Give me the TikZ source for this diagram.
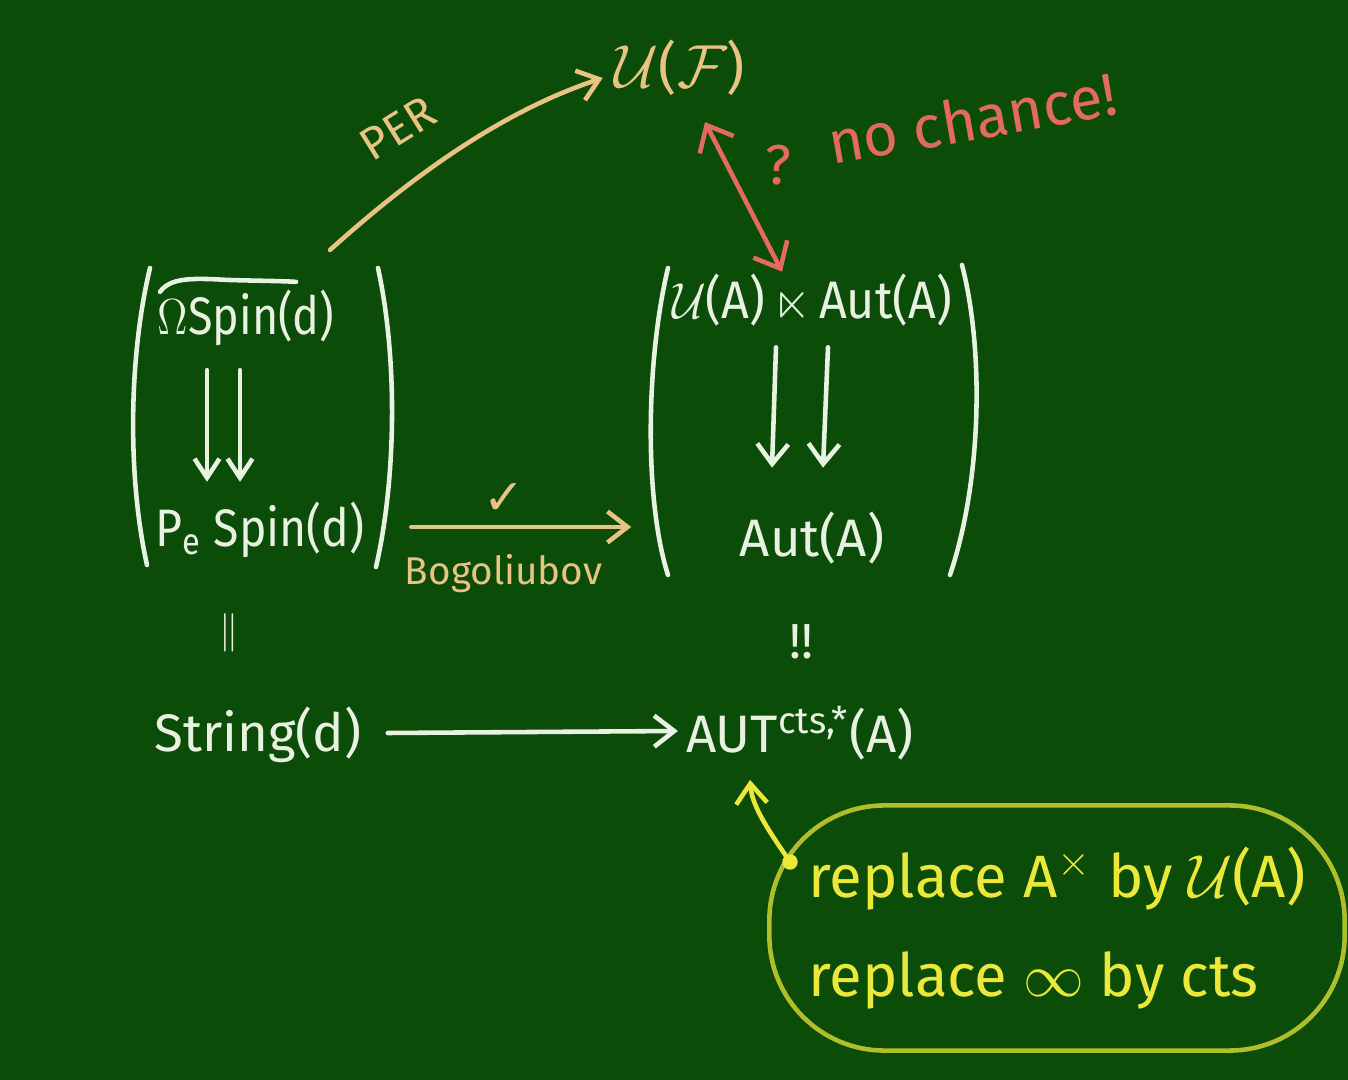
\documentclass[tikz,border=0pt]{standalone}
\usepackage{amssymb}
\usepackage{graphicx}
\usepackage{fontspec}
\setmainfont{Fira Sans}
\newfontfamily\dejavu{DejaVu Sans}
\usetikzlibrary{arrows.meta,calc}
\definecolor{board}{HTML}{0A4C08}
\definecolor{chalkw}{HTML}{E9F1E1}
\definecolor{tan}{HTML}{E9C383}
\definecolor{chred}{HTML}{E46A5E}
\definecolor{yel}{HTML}{ECE83A}
\definecolor{olive}{HTML}{B0BE2C}
\tikzset{
  chalk/.style={draw=chalkw, line width=1.3pt, line cap=round},
  tanline/.style={draw=tan, line width=1.3pt, line cap=round},
  redline/.style={draw=chred, line width=1.3pt, line cap=round},
  yelline/.style={draw=yel, line width=1.3pt, line cap=round},
  tipend/.style={-{Straight Barb[length=2mm,width=3.1mm]}},
  tipsmall/.style={-{Straight Barb[length=1.9mm,width=2.5mm]}},
  tipboth/.style={{Straight Barb[length=2.2mm,width=3.8mm]}-{Straight Barb[length=2.2mm,width=3.8mm]}},
  txt/.style={text=chalkw, font=\fontsize{15}{18}\selectfont, inner sep=1pt},
  tantxt/.style={text=tan, inner sep=1pt},
  redtxt/.style={text=chred, inner sep=1pt},
  matbox/.style={minimum width=2.65cm, minimum height=3.05cm, inner sep=0pt}
}
\begin{document}
\begin{tikzpicture}[x=0.01cm,y=-0.01cm]
\fill[board] (0,0) rectangle (1348,1080);
\useasboundingbox (0,0) rectangle (1348,1080);

% top node
\node[tantxt, font=\fontsize{16}{18}\selectfont] (UF) at (680,68) {$\mathcal{U}$($\mathcal{F}$)};

% left matrix
\node[matbox] (Lmat) at (263,417) {};
\node[txt] (Ltop) at (246,318) {\scalebox{0.85}[1]{$\Omega$Spin(d)}};
\node[txt] (Lbot) at (260,530) {\scalebox{0.88}[1]{P\textsubscript{e} Spin(d)}};
\draw[chalk] (150,268) .. controls (128,360) and (128,480) .. (147,565);
\draw[chalk] (378,268) .. controls (398,360) and (396,480) .. (376,567);
\draw[chalk] ($(Ltop.north)+(-86,6)$) .. controls ($(Ltop.north)+(-76,-8)$) and ($(Ltop.north)+(-55,-8)$) .. ($(Ltop.north)+(-20,-6)$) .. controls ($(Ltop.north)+(10,-5)$) and ($(Ltop.north)+(35,-5)$) .. ($(Ltop.north)+(50,-4)$);
\draw[chalk,tipsmall] ($(Ltop.south)+(-39,20)$) -- ($(Lbot.north)+(-53,-16)$);
\draw[chalk,tipsmall] ($(Ltop.south)+(-6,20)$) -- ($(Lbot.north)+(-20,-16)$);

% right matrix
\node[matbox, minimum width=3.32cm, minimum height=3.1cm] (Rmat) at (814,420) {};
\node[txt] (Rtop) at (812,300) {\scalebox{0.92}[1]{$\mathcal{U}$(A)\,$\ltimes$\,Aut(A)}};
\node[txt] (Rbot) at (812,538) {Aut(A)};
\draw[chalk] (668,268) .. controls (646,360) and (644,500) .. (668,575);
\draw[chalk] (962,265) .. controls (984,350) and (982,480) .. (950,575);
\draw[chalk,tipend] ($(Rtop.south)+(-36,17)$) -- ($(Rbot.north)+(-40,-40)$);
\draw[chalk,tipend] ($(Rtop.south)+(16,17)$) -- ($(Rbot.north)+(11,-40)$);

% Bogoliubov arrow
\draw[tanline,tipend] ($(Lmat.east |- Lbot)+(15,-3)$) -- node[pos=0.42, above=2pt, tantxt, font=\dejavu\fontsize{14}{16}\selectfont] (chk) {✓} node[pos=0.42, below=6pt, tantxt, font=\fontsize{11}{14}\selectfont] (bog) {Bogoliubov} ($(Rmat.west |- Lbot)+(-16,-3)$);

% PER arrow
\coordinate (perS) at (330,250);
\draw[tanline,tipend] (perS) .. controls (410,178) and (500,112) .. ($(UF.west)+(-8,10)$);
\node[tantxt, font=\fontsize{13}{15}\selectfont, rotate=32] (per) at (398,128) {PER};

% red double arrow
\draw[redline,tipboth] ($(UF.south)+(25,22)$) -- ($(Rtop.north)+(-30,2)$);
\node[redtxt, font=\fontsize{16}{18}\selectfont] (qm) at (778,165) {?};
\node[redtxt, font=\fontsize{17}{20}\selectfont, rotate=10] (nochance) at (972,118) {no chance!};

% equalities
\node[txt, font=\fontsize{11}{13}\selectfont] (eqL) at (229,633) {$\|$};
\node[txt, font=\fontsize{14}{16}\selectfont] (eqR) at (801,642) {!!};

% bottom row
\node[txt] (Sd) at (258,735) {String(d)};
\node[txt] (AUT) at (800,733) {AUT\textsuperscript{cts,*}(A)};
\draw[chalk,tipend] ($(Sd.east)+(22,-2)$) -- ($(AUT.west)+(-4,-2)$);

% annotation box
\node[draw=olive, line width=1.3pt, rounded corners=1.15cm, minimum width=5.75cm, minimum height=2.45cm, align=left, text=yel, font=\fontsize{17}{28}\selectfont] (box) at (1057,928) {replace A$^{\times}$ by $\mathcal{U}$(A)\\replace $\infty$ by cts};
\coordinate (dot) at (790,862);
\fill[yel] (dot) circle (2.2pt);
\draw[yelline,tipend] (dot) .. controls (772,835) and (752,808) .. ($(AUT.south)+(-50,16)$);
\end{tikzpicture}
\end{document}
